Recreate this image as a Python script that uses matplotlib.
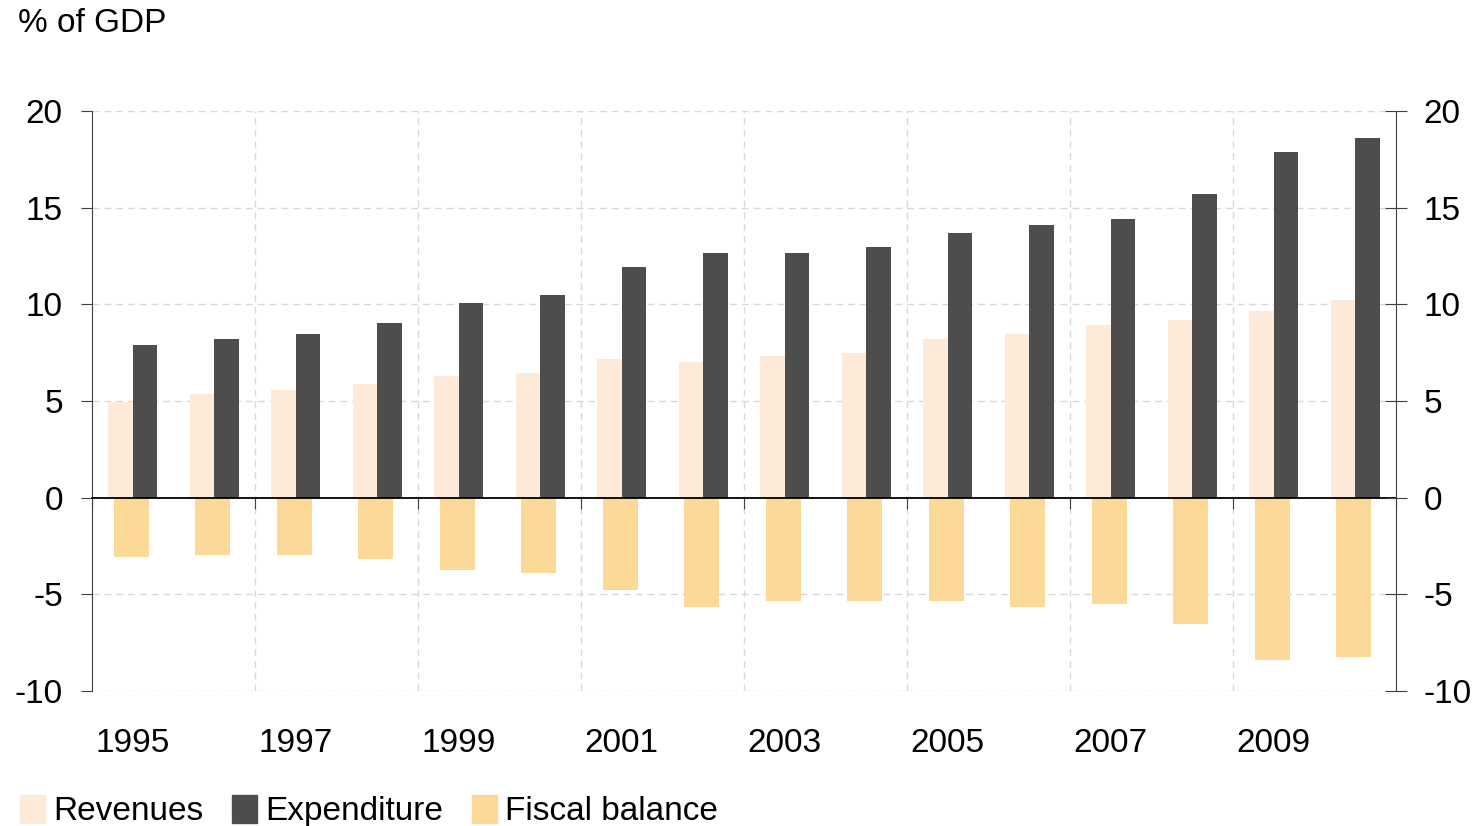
import numpy as np
import matplotlib.pyplot as plt
from matplotlib.patches import Patch

plt.rcParams["font.family"] = ["Liberation Sans", "DejaVu Sans"]
plt.rcParams["font.size"] = 24
plt.rcParams["axes.unicode_minus"] = False

years = list(range(1995, 2011))
revenues = [4.94, 5.35, 5.59, 5.90, 6.31, 6.47, 7.18, 7.04, 7.35, 7.49,
            8.22, 8.47, 8.94, 9.20, 9.67, 10.22]
expenditure = [7.92, 8.22, 8.47, 9.04, 10.08, 10.49, 11.94, 12.65, 12.65, 12.96,
               13.69, 14.10, 14.41, 15.69, 17.88, 18.59]
fiscal_balance = [-3.08, -2.94, -2.94, -3.18, -3.76, -3.92, -4.80, -5.67, -5.35, -5.35,
                  -5.35, -5.67, -5.51, -6.55, -8.41, -8.24]
year_labels = [str(y) for y in years[::2]]

c_rev = "#FDEAD9"
c_exp = "#4D4D4D"
c_fis = "#FCD999"
c_grid = "#D9D9D9"

fig = plt.figure(figsize=(14.84, 8.26), dpi=100)
ax = fig.add_axes([0.062, 0.1634, 0.8787, 0.7022])

x = np.arange(len(years))
w = 0.3
ax.bar(x - w / 2, revenues, w, color=c_rev, zorder=3)
ax.bar(x + w / 2, expenditure, w, color=c_exp, zorder=3)
ax.bar(x - 0.02, fiscal_balance, 0.43, color=c_fis, zorder=3)

ax.set_xlim(-0.5, len(years) - 0.5)
ax.set_ylim(-10, 20)

# dashed grid, vertical lines every two years
for yv in range(-10, 21, 5):
    if yv != 0:
        ax.axhline(yv, color=c_grid, lw=1, dashes=(5, 3.5), zorder=1)
for xv in np.arange(1.5, len(years) - 1, 2):
    ax.axvline(xv, color=c_grid, lw=1, dashes=(5, 3.5), zorder=1)

# spines
for s in ["top", "right"]:
    ax.spines[s].set_visible(False)
ax.spines["bottom"].set_position(("data", 0))
ax.spines["bottom"].set_color("black")
ax.spines["bottom"].set_linewidth(1.3)
ax.spines["bottom"].set_zorder(4)
ax.spines["left"].set_color("#404040")

ax.set_yticks(range(-10, 21, 5))
ax.tick_params(axis="y", direction="out", length=8, pad=13, color="#404040")
ax.set_xticks(np.arange(-0.5, len(years), 2))
ax.tick_params(axis="x", direction="out", length=8, color="#404040", labelbottom=False)

# year labels sit below the plot, not on the zero line
for i, lab in zip(x[::2], year_labels):
    ax.text(i, -0.09, lab, transform=ax.get_xaxis_transform(),
            ha="center", va="center")

# right axis (same scale)
ax2 = ax.twinx()
ax2.set_ylim(-10, 20)
ax2.set_yticks(range(-10, 21, 5))
for s in ["top", "left", "bottom"]:
    ax2.spines[s].set_visible(False)
ax2.spines["right"].set_color("#404040")
ax2.tick_params(axis="y", direction="inout", length=16, pad=12, color="#404040")

fig.text(0.012, 0.971, "% of GDP", ha="left", va="center")

handles = [Patch(color=c_rev), Patch(color=c_exp), Patch(color=c_fis)]
fig.legend(handles, ["Revenues", "Expenditure", "Fiscal balance"],
           loc="lower left", bbox_to_anchor=(-0.002, -0.03), ncol=3,
           frameon=False, handlelength=0.75, handleheight=0.9,
           handletextpad=0.25, columnspacing=0.85, borderpad=0.2)

fig.savefig("out.png", dpi=100)
